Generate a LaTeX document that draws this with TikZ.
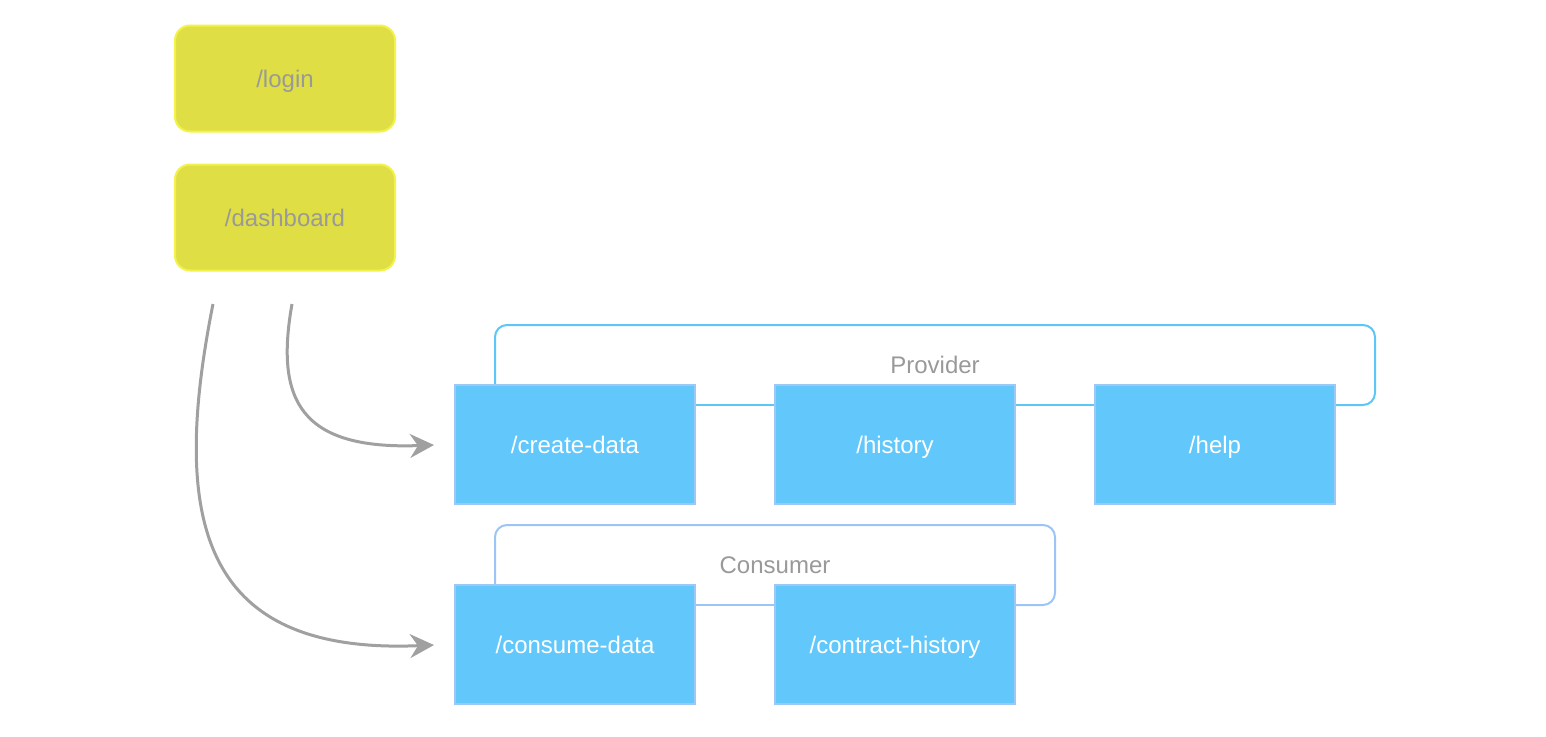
\documentclass[tikz,border=0pt]{standalone}
\usepackage{fontspec}
\setmainfont{Liberation Sans}
\usetikzlibrary{arrows.meta}
\definecolor{yfill}{HTML}{DFDF45}
\definecolor{ydraw}{HTML}{F2F24A}
\definecolor{bfill}{HTML}{62C8FB}
\definecolor{bdraw}{HTML}{9CC8F6}
\definecolor{pline}{HTML}{5EC5F7}
\definecolor{cline}{HTML}{9CC5F6}
\definecolor{gtext}{HTML}{999999}
\definecolor{garrow}{HTML}{A0A0A0}
\begin{document}
\begin{tikzpicture}[x=1pt,y=-1pt,
  every node/.style={font=\fontsize{24}{28}\selectfont},
  ybox/.style={draw=ydraw,line width=2pt,fill=yfill,rounded corners=15pt,minimum width=220pt,minimum height=106pt,inner sep=0pt,text=gtext,text height=17pt,text depth=0pt},
  bbox/.style={draw=bdraw,line width=2pt,fill=bfill,minimum width=240pt,minimum height=119pt,inner sep=0pt,text=white,text height=17pt,text depth=0pt},
  glabel/.style={text=gtext,inner sep=0pt,text height=17pt,text depth=0pt},
  pl/.style={draw=pline,line width=2pt,rounded corners=12pt},
  cl/.style={draw=cline,line width=2pt,rounded corners=12pt},
  arr/.style={draw=garrow,line width=3pt,-{Stealth[length=24pt,width=24pt,inset=8pt]}}]
\useasboundingbox (0,0) rectangle (1546,736);
\node[ybox] (login) at (285,78.5) {/login};
\node[ybox] (dash) at (285,217.5) {/dashboard};
% brackets (behind boxes)
\coordinate (pstart) at (495,386);
\coordinate (pend) at (1334,405);
\draw[pl] (pstart) -- (495,325) -- (1375,325) -- (1375,405) -- (pend);
\coordinate (cstart) at (495,586);
\coordinate (cend) at (1014,605);
\draw[cl] (cstart) -- (495,525) -- (1055,525) -- (1055,605) -- (cend);
\node[bbox] (create) at (575,444.5) {/create-data};
\node[bbox] (hist) at (895,444.5) {/history};
\node[bbox] (help) at (1215,444.5) {/help};
\node[bbox] (consume) at (575,644.5) {/consume-data};
\node[bbox] (contract) at (895,644.5) {/contract-history};
\draw[pline,line width=2pt] (create.east |- 0,405) -- (hist.west |- 0,405);
\draw[pline,line width=2pt] (hist.east |- 0,405) -- (help.west |- 0,405);
\draw[cline,line width=2pt] (consume.east |- 0,605) -- (contract.west |- 0,605);
\node[glabel] (prov) at (935,365) {Provider};
\node[glabel] (cons) at (775,565) {Consumer};
\coordinate (a1s) at (292,304);
\coordinate (a2s) at (213,304);
\coordinate (a1e) at (434,445);
\coordinate (a2e) at (434,645);
\draw[arr] (a1s) .. controls (275,400) and (300,450) .. (a1e);
\draw[arr] (a2s) .. controls (170,520) and (200,655) .. (a2e);
\end{tikzpicture}
\end{document}
